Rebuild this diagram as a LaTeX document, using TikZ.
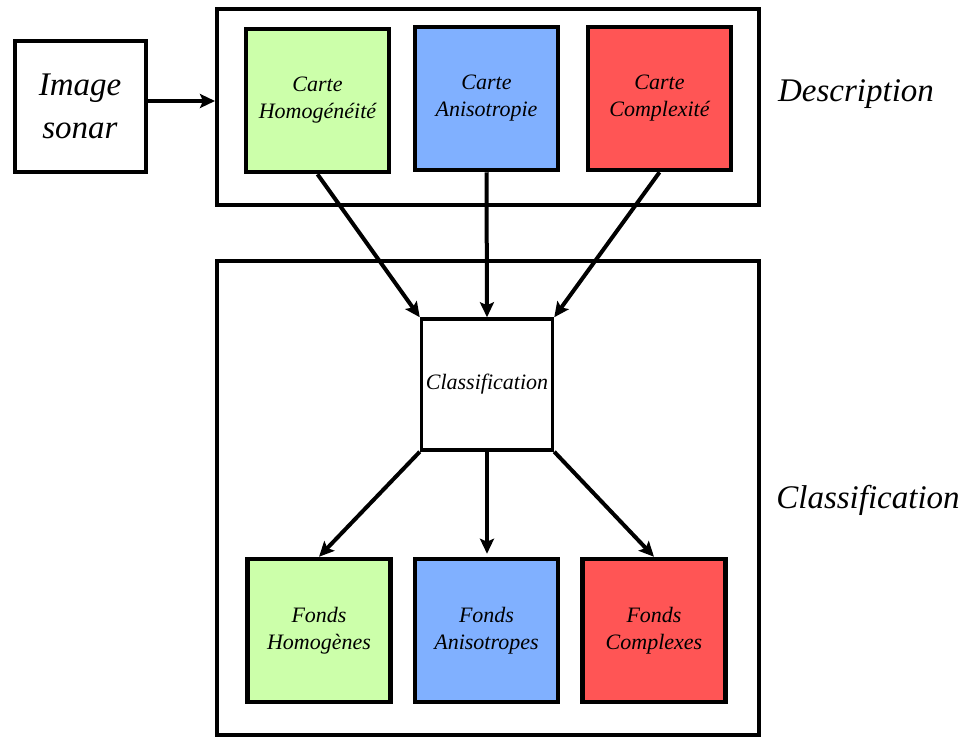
\documentclass[tikz,border=0pt]{standalone}
\usepackage{fontspec}
\setmainfont{Liberation Serif}
\usetikzlibrary{arrows.meta}
\definecolor{cgreen}{HTML}{CCFFAA}
\definecolor{cblue}{HTML}{80B0FF}
\definecolor{cred}{HTML}{FF5555}
\begin{document}
\begin{tikzpicture}[x=1pt,y=-1pt,
  bigbox/.style={draw,line width=4pt,minimum width=542pt},
  cbox/.style={draw,line width=4.5pt,minimum width=143pt,minimum height=143pt,inner sep=0pt,align=center,font=\fontsize{22}{27}\selectfont\itshape},
  wbox/.style={draw,line width=3.5pt,minimum width=131pt,minimum height=131pt,inner sep=0pt,align=center},
  arr/.style={line width=4pt,-{Stealth[length=15pt,width=14pt,inset=3pt]}},
  lab/.style={anchor=base,font=\fontsize{33}{40}\selectfont\itshape}]
\useasboundingbox (0,0) rectangle (964,737);
% containers
\node[bigbox,minimum height=196pt] (desc) at (488,107) {};
\node[bigbox,minimum height=474pt] (clsbox) at (488,498) {};
% input
\node[wbox,line width=4pt,font=\fontsize{33}{43}\selectfont\itshape] (sonar) at (80,106) {Image\\sonar};
% maps
\node[cbox,fill=cgreen] (cH) at (317.5,100.5) {Carte\\Homogénéité};
\node[cbox,fill=cblue] (cA) at (486.5,98.5) {Carte\\Anisotropie};
\node[cbox,fill=cred] (cC) at (659.5,98.5) {Carte\\Complexité};
% classification
\node[wbox,font=\fontsize{22}{27}\selectfont\itshape] (cls) at (487,384.5) {Classification};
% results
\node[cbox,fill=cgreen] (fH) at (319,630.5) {Fonds\\Homogènes};
\node[cbox,fill=cblue] (fA) at (486.5,630.5) {Fonds\\Anisotropes};
\node[cbox,fill=cred] (fC) at (654,630.5) {Fonds\\Complexes};
% labels
\node[lab] (ldesc) at (856,101) {Description};
\node[lab] (lcls) at (868,508) {Classification};
% connectors
\draw[arr] ([yshift=5pt]sonar.east) -- ([yshift=6pt]desc.west);
\draw[arr] (cH.south) -- (cls.north west);
\draw[arr] (cA.south) -- (cls.north);
\draw[arr] (cC.south) -- (cls.north east);
\draw[arr] (cls.south west) -- (fH.north);
\draw[arr] (cls.south) -- ([yshift=3pt]cls.south |- fA.north);
\draw[arr] (cls.south east) -- (fC.north);
\end{tikzpicture}
\end{document}
